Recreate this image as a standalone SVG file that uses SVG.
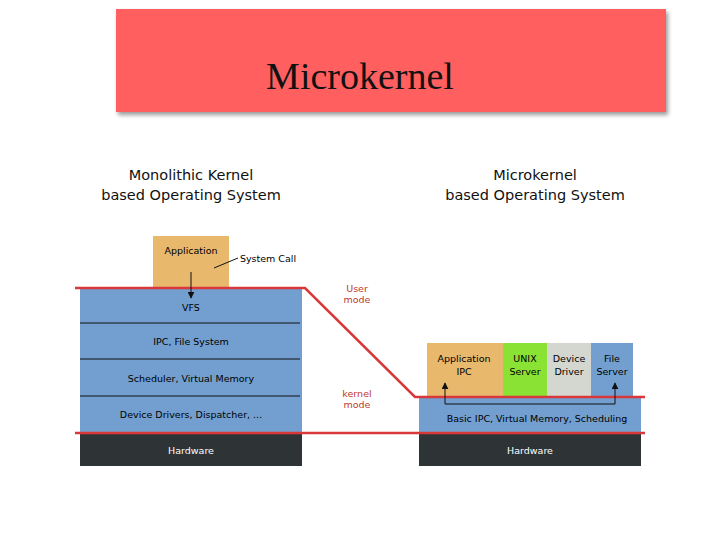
<svg xmlns="http://www.w3.org/2000/svg" width="720" height="540" viewBox="0 0 720 540">
<style>
.s{font-family:"DejaVu Sans",sans-serif;font-size:9.5px;text-anchor:middle}
.w{fill:#fff}.r{fill:#c0392b}
.h{font-family:"DejaVu Sans",sans-serif;font-size:14.5px;text-anchor:middle;fill:#111}
.red{stroke:#d9383a;stroke-width:2.5;fill:none}
.blk{stroke:#111;stroke-width:1;fill:none}
</style>
<defs>
<marker id="a" viewBox="0 0 10 10" refX="9" refY="5" markerWidth="7" markerHeight="7" orient="auto"><path d="M0,0L10,5L0,10z" fill="#111"/></marker>
<filter id="sh"><feDropShadow dx="2" dy="3" stdDeviation="2" flood-opacity="0.4"/></filter>
</defs>
<rect width="720" height="540" fill="#fff"/>
<g id="title"><rect x="116" y="9" width="550" height="103" fill="#ff5e5e" filter="url(#sh)"/>
<text x="360" y="89" font-family="Liberation Serif,serif" font-size="38" text-anchor="middle" fill="#111">Microkernel</text></g>
<g id="headings">
<text class="h" x="191" y="180">Monolithic Kernel</text><text class="h" x="191" y="200">based Operating System</text>
<text class="h" x="535" y="180">Microkernel</text><text class="h" x="535" y="200">based Operating System</text></g>
<g id="mono">
<rect x="153" y="236" width="76" height="52" fill="#e8b86d"/>
<text class="s" x="191" y="254">Application</text>
<text class="s" x="268" y="262">System Call</text>
<rect x="80" y="288" width="222" height="145" fill="#729fcf"/>
<line class="blk" x1="80" y1="323" x2="300" y2="323"/><line class="blk" x1="80" y1="359" x2="300" y2="359"/><line class="blk" x1="80" y1="396" x2="300" y2="396"/>
<text class="s" x="191" y="311">VFS</text>
<text class="s" x="191" y="345">IPC, File System</text>
<text class="s" x="191" y="382">Scheduler, Virtual Memory</text>
<text class="s" x="191" y="418">Device Drivers, Dispatcher, ...</text>
<rect x="80" y="433" width="222" height="33" fill="#2e3436"/>
<text class="s w" x="191" y="454">Hardware</text></g>
<g id="micro">
<rect x="427" y="343" width="76" height="54" fill="#e8b86d"/><text class="s" x="464" y="362">Application</text><text class="s" x="464" y="375">IPC</text>
<rect x="503" y="343" width="44" height="54" fill="#8ae234"/><text class="s" x="525" y="362">UNIX</text><text class="s" x="525" y="375">Server</text>
<rect x="547" y="343" width="44" height="54" fill="#d3d7cf"/><text class="s" x="569" y="362">Device</text><text class="s" x="569" y="375">Driver</text>
<rect x="591" y="343" width="42" height="54" fill="#729fcf"/><text class="s" x="612" y="362">File</text><text class="s" x="612" y="375">Server</text>
<rect x="419" y="397" width="222" height="36" fill="#729fcf"/>
<text class="s" x="537" y="422">Basic IPC, Virtual Memory, Scheduling</text>
<rect x="419" y="434" width="222" height="32" fill="#2e3436"/>
<text class="s w" x="530" y="454">Hardware</text></g>
<g id="labels"><text class="s r" x="357" y="292" text-anchor="middle">User</text><text class="s r" x="357" y="303">mode</text>
<text class="s r" x="357" y="397">kernel</text><text class="s r" x="357" y="408">mode</text></g>
<g id="connectors">
<polyline class="red" points="75,288 305,288 415,397 645,397"/>
<line class="red" x1="75" y1="433" x2="645" y2="433"/>
<line class="blk" x1="214" y1="268" x2="238" y2="258"/>
<line class="blk" x1="191" y1="272" x2="191" y2="298" marker-end="url(#a)"/>
<polyline class="blk" points="445,404 445,383" marker-end="url(#a)"/>
<polyline class="blk" points="445,404 615,404 615,383" marker-end="url(#a)"/>
</g>
</svg>
